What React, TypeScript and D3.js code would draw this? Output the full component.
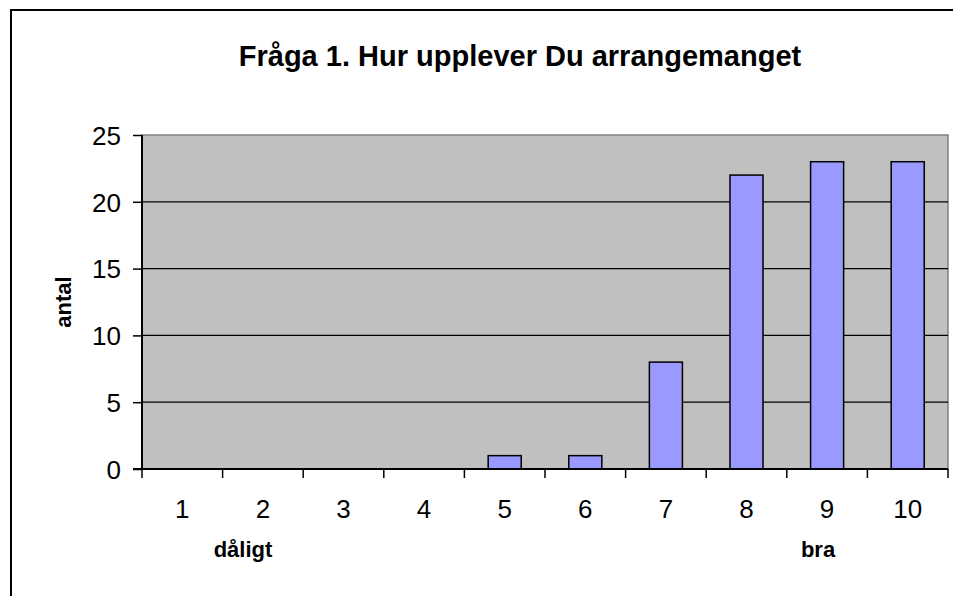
import { useEffect, useRef } from "react";
import * as d3 from "d3";

const categories = ["1", "2", "3", "4", "5", "6", "7", "8", "9", "10"];
const counts = [0, 0, 0, 0, 1, 1, 8, 22, 23, 23];
const yTicks = [0, 5, 10, 15, 20, 25];

export default function App() {
  const ref = useRef<SVGSVGElement>(null);

  useEffect(() => {
    const svg = d3.select(ref.current);
    svg.selectAll("*").remove();

    const width = 953;
    const height = 596;
    const margin = { top: 135, right: 5, bottom: 127, left: 142 };
    const font = "'Liberation Sans', Arial, sans-serif";

    // outer chart frame (runs off the right/bottom edge like the original)
    svg.append("rect")
      .attr("x", 11).attr("y", 10)
      .attr("width", 1000).attr("height", 700)
      .attr("fill", "#fff").attr("stroke", "#000").attr("stroke-width", 2);

    const x = d3.scaleBand()
      .domain(categories)
      .range([margin.left, width - margin.right])
      .paddingInner(0.59)
      .paddingOuter(0.295);

    const y = d3.scaleLinear()
      .domain([0, 25])
      .range([height - margin.bottom, margin.top]);

    const x0 = margin.left, x1 = width - margin.right;
    const step = x.step();

    // plot area
    svg.append("rect")
      .attr("x", x0).attr("y", y(25))
      .attr("width", x1 - x0).attr("height", y(0) - y(25))
      .attr("fill", "#c0c0c0").attr("stroke", "#808080").attr("stroke-width", 1.5);

    // gridlines
    svg.append("g")
      .selectAll("line")
      .data(yTicks.filter(d => d > 0 && d < 25))
      .join("line")
      .attr("x1", x0).attr("x2", x1)
      .attr("y1", d => y(d)).attr("y2", d => y(d))
      .attr("stroke", "#000").attr("stroke-width", 1.2);

    // bars
    svg.append("g")
      .selectAll("rect")
      .data(counts.map((v, i) => ({ c: categories[i], v })).filter(d => d.v > 0))
      .join("rect")
      .attr("x", d => x(d.c)!)
      .attr("width", x.bandwidth())
      .attr("y", d => y(d.v))
      .attr("height", d => y(0) - y(d.v))
      .attr("fill", "#9999ff")
      .attr("stroke", "#000")
      .attr("stroke-width", 1.5);

    // y axis
    svg.append("g")
      .attr("transform", `translate(${x0},0)`)
      .call(d3.axisLeft(y).tickValues(yTicks).tickSize(9).tickPadding(12))
      .call(g => g.select(".domain").attr("stroke", "#000").attr("stroke-width", 2).attr("d", `M0,${y(25)}V${y(0)}`))
      .call(g => g.selectAll(".tick line").attr("stroke", "#000").attr("stroke-width", 1.5))
      .call(g => g.selectAll("text").attr("fill", "#000").attr("dy", "0.36em")
        .style("font-family", font).style("font-size", "26px"));

    // x axis: line, boundary ticks and labels
    const xg = svg.append("g");
    xg.append("line")
      .attr("x1", x0 - 9).attr("x2", x1)
      .attr("y1", y(0)).attr("y2", y(0))
      .attr("stroke", "#000").attr("stroke-width", 2);
    xg.selectAll("line.tick")
      .data(d3.range(categories.length + 1))
      .join("line")
      .attr("class", "tick")
      .attr("x1", i => x0 + i * step).attr("x2", i => x0 + i * step)
      .attr("y1", y(0)).attr("y2", y(0) + 9)
      .attr("stroke", "#000").attr("stroke-width", 1.5);
    xg.selectAll("text")
      .data(categories)
      .join("text")
      .attr("x", d => x(d)! + x.bandwidth() / 2)
      .attr("y", 518)
      .attr("text-anchor", "middle")
      .style("font-family", font).style("font-size", "26px")
      .text(d => d);

    // title
    svg.append("text")
      .attr("x", 520).attr("y", 66)
      .attr("text-anchor", "middle")
      .style("font-family", font).style("font-size", "29px").style("font-weight", "bold")
      .text("Fråga 1. Hur upplever Du arrangemanget");

    // axis titles
    svg.append("text")
      .attr("transform", `translate(71,${(y(0) + y(25)) / 2}) rotate(-90)`)
      .attr("text-anchor", "middle")
      .style("font-family", font).style("font-size", "22px").style("font-weight", "bold")
      .text("antal");
    svg.append("text")
      .attr("x", 243).attr("y", 557)
      .attr("text-anchor", "middle")
      .style("font-family", font).style("font-size", "22px").style("font-weight", "bold")
      .text("dåligt");
    svg.append("text")
      .attr("x", 818).attr("y", 557)
      .attr("text-anchor", "middle")
      .style("font-family", font).style("font-size", "22px").style("font-weight", "bold")
      .text("bra");
  }, []);

  return (
    <svg ref={ref} width={953} height={596}
      style={{ position: "absolute", left: 0, top: 0, background: "#fff" }} />
  );
}
